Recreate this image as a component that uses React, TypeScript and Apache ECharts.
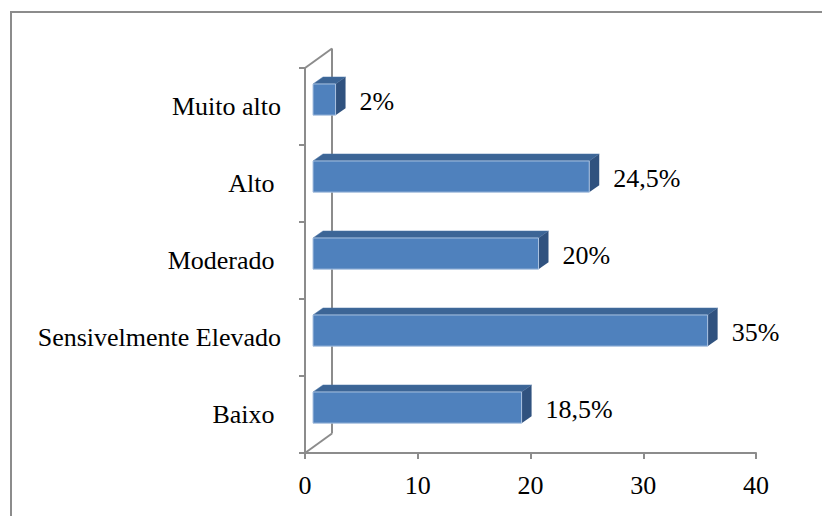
import React, { useEffect, useRef } from "react";
import * as echarts from "echarts";

// Categories listed bottom-to-top (category axis starts at the bottom)
const categories = ["Baixo ", "Sensivelmente Elevado", "Moderado ", "Alto ", "Muito alto"];
const values = [18.5, 35, 20, 24.5, 2];
const xTicks = { min: 0, max: 40, interval: 10 };

const FONT = "Liberation Serif, Times New Roman, serif";
const GRAY = "#8c8c8c";

export default function App() {
  const ref = useRef<HTMLDivElement>(null);

  useEffect(() => {
    if (!ref.current) return;
    const chart = echarts.init(ref.current, undefined, { renderer: "svg" });

    const barData = values.map((v, i) => [v, i]);

    const option: any = {
      animation: false,
      backgroundColor: "#ffffff",
      textStyle: { fontFamily: FONT },
      graphic: [
        {
          type: "rect",
          shape: { x: 11, y: 12, width: 840, height: 540 },
          style: { fill: "none", stroke: GRAY, lineWidth: 2 },
          silent: true,
          z: 100,
        },
      ],
      grid: { left: 305, right: 66, top: 68, bottom: 63 },
      xAxis: {
        type: "value",
        min: xTicks.min,
        max: xTicks.max,
        interval: xTicks.interval,
        axisLine: { show: true, lineStyle: { color: GRAY, width: 2 } },
        axisTick: { show: true, length: 6, lineStyle: { color: GRAY, width: 2 } },
        splitLine: { show: false },
        axisLabel: { fontSize: 26, color: "#000", fontFamily: FONT, margin: 19 },
      },
      yAxis: {
        type: "category",
        data: categories,
        axisLine: { show: true, lineStyle: { color: GRAY, width: 2 } },
        axisTick: { show: true, length: 6, lineStyle: { color: GRAY, width: 2 } },
        axisLabel: { fontSize: 26, color: "#000", fontFamily: FONT, margin: 24 },
      },
      series: [
        {
          type: "custom",
          z: 1,
          silent: true,
          data: [[0, 0]],
          encode: { x: 0, y: 1 },
          renderItem: (params: any) => {
            const cs = params.coordSys;
            const dx = 27;
            const dy = -19.5;
            const x = cs.x;
            const y = cs.y;
            const h = cs.height;
            const style = { stroke: GRAY, lineWidth: 2, fill: "none" };
            return {
              type: "group",
              children: [
                { type: "line", shape: { x1: x + dx, y1: y + dy, x2: x + dx, y2: y + h + dy }, style },
                { type: "line", shape: { x1: x, y1: y, x2: x + dx, y2: y + dy }, style },
                { type: "line", shape: { x1: x, y1: y + h, x2: x + dx, y2: y + h + dy }, style },
              ],
            };
          },
        },
        {
          type: "custom",
          z: 2,
          data: barData,
          encode: { x: 0, y: 1 },
          renderItem: (params: any, api: any) => {
            const v = api.value(0);
            const c = api.value(1);
            const start = api.coord([0, c]);
            const end = api.coord([v, c]);
            const band = api.size([0, 1])[1];
            const shiftX = 8;
            const dx = 10;
            const dy = -7;
            const h = band * 0.405;
            const yc = start[1] - band * 0.09;
            const x0 = start[0] + shiftX;
            const x1 = end[0] + shiftX;
            const top = yc - h / 2;
            const bottom = yc + h / 2;
            const label = String(v).replace(".", ",") + "%";
            return {
              type: "group",
              children: [
                {
                  type: "polygon",
                  shape: { points: [[x0, top], [x0 + dx, top + dy], [x1 + dx, top + dy], [x1, top]] },
                  style: { fill: "#3c6596", stroke: "#4a74a6", lineWidth: 0.5 },
                },
                {
                  type: "polygon",
                  shape: { points: [[x1, top], [x1 + dx, top + dy], [x1 + dx, bottom + dy], [x1, bottom]] },
                  style: { fill: "#30527f" },
                },
                {
                  type: "rect",
                  shape: { x: x0, y: top, width: x1 - x0, height: h },
                  style: { fill: "#4f81bd", stroke: "#a9c1e0", lineWidth: 1 },
                },
                {
                  type: "text",
                  x: x1 + dx + 14,
                  y: yc + 1.5,
                  style: {
                    text: label,
                    fontSize: 26,
                    fontFamily: FONT,
                    fill: "#000",
                    align: "left",
                    verticalAlign: "middle",
                  },
                },
              ],
            };
          },
        },
      ],
    };

    chart.setOption(option);
    return () => chart.dispose();
  }, []);

  return (
    <div
      ref={ref}
      style={{ position: "fixed", left: 0, top: 0, width: 822, height: 516, background: "#fff" }}
    />
  );
}
